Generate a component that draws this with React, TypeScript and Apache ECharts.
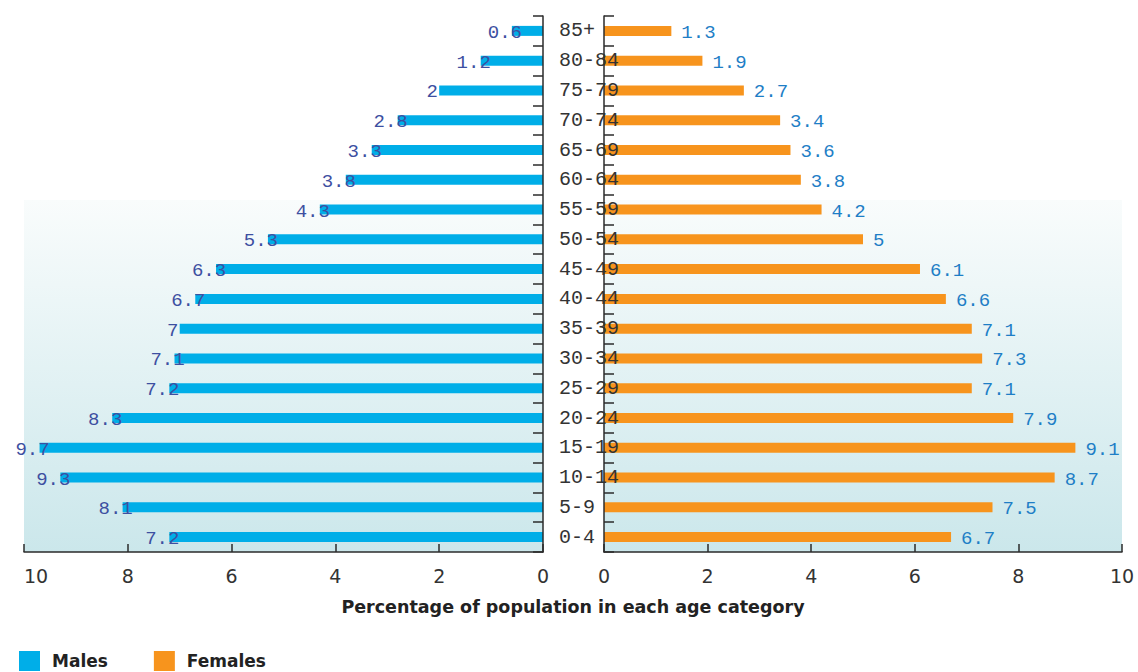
import React, { useEffect, useRef } from "react";
import * as echarts from "echarts";

// Age bands, youngest at the bottom of the pyramid
const ageGroups = [
  "0-4", "5-9", "10-14", "15-19", "20-24", "25-29", "30-34", "35-39", "40-44",
  "45-49", "50-54", "55-59", "60-64", "65-69", "70-74", "75-79", "80-84", "85+",
];

// Share of population (%) in each age band
const males = [7.2, 8.1, 9.3, 9.7, 8.3, 7.2, 7.1, 7, 6.7, 6.3, 5.3, 4.3, 3.8, 3.3, 2.8, 2, 1.2, 0.6];
const females = [6.7, 7.5, 8.7, 9.1, 7.9, 7.1, 7.3, 7.1, 6.6, 6.1, 5, 4.2, 3.8, 3.6, 3.4, 2.7, 1.9, 1.3];

const axisMin = 0;
const axisMax = 10;
const axisStep = 2;
const axisTitle = "Percentage of population in each age category";

const MALE_COLOR = "#00aee8";
const FEMALE_COLOR = "#f7941d";
const AXIS_COLOR = "#2b2b2b";
const MONO = "'Liberation Mono', monospace";
const SANS = "'DejaVu Sans', sans-serif";

const leftGrid = { left: 24, top: 16, width: 519, height: 536 };
const rightGrid = { left: 604, top: 16, width: 518, height: 536 };

function fade(x: number, y: number, w: number, h: number) {
  return {
    type: "rect",
    z: 0,
    silent: true,
    shape: { x, y, width: w, height: h },
    style: {
      fill: new echarts.graphic.LinearGradient(0, 0, 0, 1, [
        { offset: 0, color: "#f9fcfc" },
        { offset: 1, color: "#cbe7eb" },
      ]),
    },
  };
}

function valueAxis(gridIndex: number, inverse: boolean) {
  return {
    type: "value",
    gridIndex,
    min: axisMin,
    max: axisMax,
    interval: axisStep,
    inverse,
    z: 4,
    axisLine: { show: true, lineStyle: { color: AXIS_COLOR, width: 1.5 } },
    axisTick: { show: true, inside: true, length: 8, lineStyle: { color: AXIS_COLOR, width: 1.5 } },
    axisLabel: {
      show: true,
      margin: 14,
      color: "#333",
      fontFamily: SANS,
      fontSize: 19,
      alignMaxLabel: inverse ? "left" : "center",
    },
    splitLine: { show: false },
  };
}

export default function App() {
  const ref = useRef<HTMLDivElement>(null);

  useEffect(() => {
    document.body.style.margin = "0";
    if (!ref.current) return;
    const chart = echarts.init(ref.current, undefined, { renderer: "svg" });

    chart.setOption({
      animation: false,
      backgroundColor: "#ffffff",
      grid: [leftGrid, rightGrid],
      legend: {
        data: ["Males", "Females"],
        left: 19,
        top: 651,
        padding: 0,
        itemWidth: 21,
        itemHeight: 20,
        itemGap: 46,
        icon: "rect",
        textStyle: {
          color: "#222",
          fontFamily: SANS,
          fontWeight: "bold",
          fontSize: 17,
          padding: [0, 0, 0, 7],
        },
      },
      xAxis: [valueAxis(0, true), valueAxis(1, false)],
      yAxis: [
        {
          type: "category",
          gridIndex: 0,
          data: ageGroups,
          position: "right",
          z: 4,
          axisLine: { show: true, lineStyle: { color: AXIS_COLOR, width: 1.5 } },
          axisTick: { show: true, inside: true, length: 10, lineStyle: { color: AXIS_COLOR, width: 1.5 } },
          axisLabel: { show: false },
        },
        {
          type: "category",
          gridIndex: 1,
          data: ageGroups,
          position: "left",
          z: 5,
          axisLine: { show: true, lineStyle: { color: AXIS_COLOR, width: 1.5 } },
          axisTick: { show: true, inside: true, length: 10, lineStyle: { color: AXIS_COLOR, width: 1.5 } },
          axisLabel: {
            show: true,
            align: "left",
            margin: 45,
            color: "#333",
            fontFamily: MONO,
            fontSize: 20,
          },
        },
      ],
      series: [
        {
          name: "Males",
          type: "bar",
          xAxisIndex: 0,
          yAxisIndex: 0,
          data: males,
          barWidth: 10,
          itemStyle: { color: MALE_COLOR },
          label: {
            show: true,
            position: "left",
            distance: 7,
            align: "center",
            offset: [0, 2],
            color: "#3d4fa1",
            fontFamily: MONO,
            fontSize: 19,
          },
        },
        {
          name: "Females",
          type: "bar",
          xAxisIndex: 1,
          yAxisIndex: 1,
          data: females,
          barWidth: 10,
          itemStyle: { color: FEMALE_COLOR },
          label: {
            show: true,
            position: "right",
            distance: 10,
            offset: [0, 2],
            color: "#1e7ec6",
            fontFamily: MONO,
            fontSize: 19,
          },
        },
      ],
      graphic: [
        fade(leftGrid.left, 200, leftGrid.width, leftGrid.top + leftGrid.height - 200),
        fade(rightGrid.left, 200, rightGrid.width, rightGrid.top + rightGrid.height - 200),
        {
          type: "text",
          x: 573,
          y: 607,
          silent: true,
          style: {
            text: axisTitle,
            fill: "#222",
            font: `bold 17.5px ${SANS}`,
            align: "center",
            verticalAlign: "middle",
          },
        },
      ],
    });

    return () => chart.dispose();
  }, []);

  return <div ref={ref} style={{ width: 1138, height: 672 }} />;
}
